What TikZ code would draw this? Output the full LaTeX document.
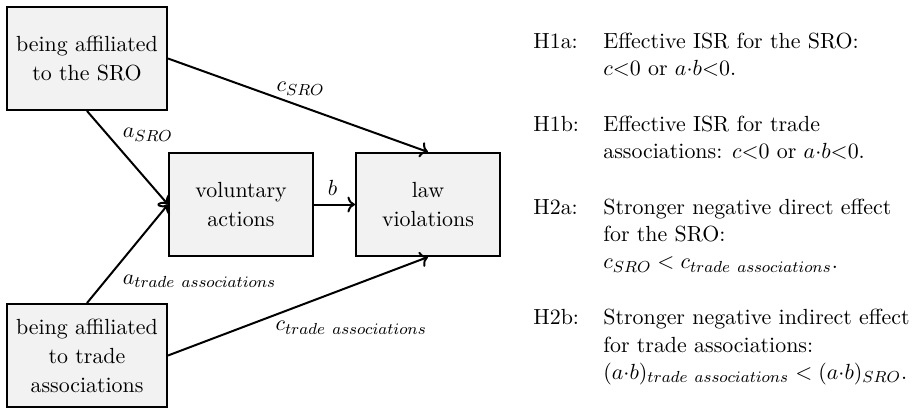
\documentclass[tikz,border=0pt]{standalone}
\usepackage{array}
\usetikzlibrary{arrows.meta}

\tikzset{
  box/.style={draw=black, line width=1pt, fill=gray!10, align=center,
    inner sep=0pt, minimum height=51.5pt,
    font=\fontsize{10.95}{14.5}\selectfont},
  sidebox/.style={box, minimum width=80pt},
  midbox/.style={box, minimum width=72pt},
  arr/.style={->, line width=1pt},
  lbl/.style={inner sep=0pt, anchor=base west, font=\fontsize{10.95}{13.6}\selectfont},
}

\begin{document}
\begin{tikzpicture}[x=0.5pt, y=-0.5pt]
\useasboundingbox (0,0) rectangle (921,408);

% variables of the mediation model
\node[sidebox] (sro)   at (87,58.5)   {being affiliated\\to the SRO};
\node[sidebox] (trade) at (87,355.5)  {being affiliated\\to trade\\associations};
\node[midbox]  (vol)   at (241,204.5) {voluntary\\actions};
\node[midbox]  (law)   at (428,204.5) {law\\violations};

% paths a, b and c
\draw[arr] (sro.south) -- (vol.west)
  node[lbl, pos=0.286, xshift=5.8pt] {$a_{SRO}$};
\draw[arr] (trade.north) -- (vol.west)
  node[lbl, pos=0.191, xshift=9.7pt] {$a_{trade\ associations}$};
\draw[arr] (vol) -- (law)
  node[lbl, anchor=base, pos=0.45, yshift=4.75pt] {$b$};
\draw[arr] (sro.east) -- (law.north)
  node[lbl, pos=0.414, yshift=2.8pt] {$c_{SRO}$};
\draw[arr] (trade.east) -- (law.south)
  node[lbl, pos=0.41, yshift=-7.7pt] {$c_{trade\ associations}$};

% hypotheses
\node[inner sep=0pt, anchor=base west, font=\fontsize{10.95}{13.6}\selectfont] (hyp) at (533,48) {%
  \begin{tabular}[t]{@{}p{35pt}@{}l@{}}
  H1a: & Effective ISR for the SRO:\\
       & $c{<}0$ or $a{\cdot}b{<}0$.\\[14.4pt]
  H1b: & Effective ISR for trade\\
       & associations: $c{<}0$ or $a{\cdot}b{<}0$.\\[14.4pt]
  H2a: & Stronger negative direct effect\\
       & for the SRO:\\
       & $c_{SRO} < c_{trade\ associations}$.\\[14.4pt]
  H2b: & Stronger negative indirect effect\\
       & for trade associations:\\
       & $(a{\cdot}b)_{trade\ associations} < (a{\cdot}b)_{SRO}$.
  \end{tabular}};
\end{tikzpicture}
\end{document}
